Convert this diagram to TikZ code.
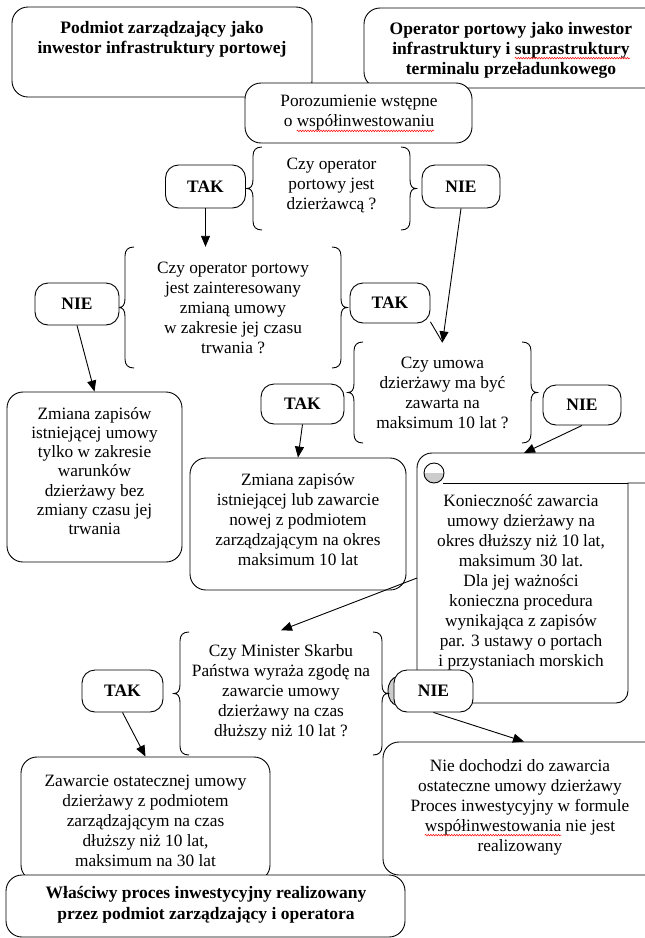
\documentclass[tikz,border=0pt]{standalone}
\usepackage{fontspec}
\setmainfont{Liberation Serif}
\usetikzlibrary{arrows.meta,calc,decorations.pathmorphing}
\newcommand\spellwave[1]{\setbox0=\hbox{#1}\makebox[\wd0][l]{\copy0\hspace{-\wd0}\tikz[overlay,baseline=0pt,x=1pt,y=1pt] \draw[red,line width=0.5pt,decorate,decoration={snake,amplitude=0.8pt,segment length=2.6pt}] (0,-4) -- (\the\wd0,-4);}}
\newcommand\bracepairpx[4]{%
  \pgfmathsetmacro\brmid{(#3+#4)/2}%
  \draw[brc] ({#1+9},#3) .. controls ({#1+3},#3) and (#1,{#3+3}) .. (#1,{#3+9}) -- (#1,{\brmid-9}) .. controls (#1,{\brmid-3}) and ({#1-2},\brmid) .. ({#1-6},\brmid) .. controls ({#1-2},\brmid) and (#1,{\brmid+3}) .. (#1,{\brmid+9}) -- (#1,{#4-9}) .. controls (#1,{#4-3}) and ({#1+3},#4) .. ({#1+9},#4);
  \draw[brc] ({#2-9},#3) .. controls ({#2-3},#3) and (#2,{#3+3}) .. (#2,{#3+9}) -- (#2,{\brmid-9}) .. controls (#2,{\brmid-3}) and ({#2+2},\brmid) .. ({#2+6},\brmid) .. controls ({#2+2},\brmid) and (#2,{\brmid+3}) .. (#2,{\brmid+9}) -- (#2,{#4-9}) .. controls (#2,{#4-3}) and ({#2-3},#4) .. ({#2-9},#4);
}
\begin{document}
\begin{tikzpicture}[x=1pt,y=-1pt,
  box/.style={draw=black,line width=0.9pt,fill=white,rounded corners=16pt,inner sep=0pt},
  pill/.style={draw=black,line width=0.9pt,fill=white,rounded corners=13pt,inner sep=0pt,font=\bfseries\fontsize{17.5}{20}\selectfont},
  txt/.style={align=center,font=\fontsize{17.3}{20}\selectfont,inner sep=0pt},
  btxt/.style={align=center,font=\bfseries\fontsize{17.5}{20}\selectfont,inner sep=0pt},
  wtxt/.style={align=center,font=\bfseries\fontsize{17.5}{20.5}\selectfont,inner sep=0pt},
  dec/.style={align=center,font=\fontsize{17.3}{20}\selectfont,inner sep=0pt},
  brc/.style={draw=black,line width=0.9pt},
  arr/.style={draw=black,line width=0.9pt,-{Triangle[length=11pt,width=9pt]}},
  ln/.style={draw=black,line width=0.9pt}]
\fill[white] (0,0) rectangle (645,938);
\useasboundingbox (0,0) rectangle (645,938);

% top boxes
\node[box,minimum width=300,minimum height=90] (A) at (162,52) {};
\node[btxt] (At) at (162,39) {Podmiot zarządzający jako\\inwestor infrastruktury portowej};
\node[box,minimum width=297,minimum height=80] (B) at (512.5,48) {};
\node[btxt] (Bt) at (511,50) {Operator portowy jako inwestor\\infrastruktury i \spellwave{suprastruktury}\\terminalu przeładunkowego};
\node[box,minimum width=227,minimum height=60] (C) at (358.5,113) {};
\node[txt] (Ct) at (359,113) {Porozumienie wstępne\\o \spellwave{współinwestowaniu}};

% decision 1
\bracepairpx{253}{410}{147}{230}
\node[dec,minimum width=157,minimum height=83] (D1) at (331.5,185) {Czy operator\\portowy jest\\dzierżawcą ?};
\node[pill,minimum width=80,minimum height=43] (TAK1) at (205.5,186.5) {TAK};
\node[pill,minimum width=78,minimum height=43] (NIE1) at (461,186.5) {NIE};

% decision 2
\bracepairpx{125}{341}{247}{368}
\node[dec,minimum width=216,minimum height=121] (D2) at (233,307.5) {Czy operator portowy\\jest zainteresowany\\zmianą umowy\\w zakresie jej czasu\\trwania ?};
\node[pill,minimum width=84,minimum height=42] (NIE2) at (77,304) {NIE};
\node[pill,minimum width=80,minimum height=40] (TAK2) at (390,303) {TAK};

% decision 3
\bracepairpx{354}{531}{342}{443}
\node[dec,minimum width=177,minimum height=101] (D3) at (442.5,393) {Czy umowa\\dzierżawy ma być\\zawarta na\\maksimum 10 lat ?};
\node[pill,minimum width=83,minimum height=40] (TAK3) at (302.5,404) {TAK};
\node[pill,minimum width=78,minimum height=40] (NIE3) at (582,405) {NIE};

% result boxes
\node[box,minimum width=175,minimum height=170] (Z1) at (94.5,477) {};
\node[txt,font=\fontsize{17.3}{19.3}\selectfont] (Z1t) at (94.5,471) {Zmiana zapisów\\istniejącej umowy\\tylko w zakresie\\warunków\\dzierżawy bez\\zmiany czasu jej\\trwania};
\node[box,minimum width=216,minimum height=132] (Z2) at (298,524) {};
\node[txt] (Z2t) at (298,520) {Zmiana zapisów\\istniejącej lub zawarcie\\nowej z podmiotem\\zarządzającym na okres\\maksimum 10 lat};

% scroll
\draw[ln,fill=white] (417,690) [rounded corners=15pt] -- (417,453) -- (665,453) [sharp corners] -- (665,483) -- (628,483) [rounded corners=12pt] -- (628,703) -- (417,703) [sharp corners] -- cycle;
\draw[ln] (443,483) -- (628,483);
\begin{scope}
  \clip (420,473) rectangle (448,487);
  \fill[gray!40] (434,473) circle[radius=10];
\end{scope}
\draw[ln] (434,473) circle[radius=10];
\coordinate (scrolltop) at (524,453);
\coordinate (scrollleft) at (417,578);
\node[txt] (St) at (521,582) {Konieczność zawarcia\\umowy dzierżawy na\\okres dłuższy niż 10 lat,\\maksimum 30 lat.\\Dla jej ważności\\konieczna procedura\\wynikająca z zapisów\\par. 3 ustawy o portach\\i przystaniach morskich};
\draw[ln,fill=gray!40] (397,691) ellipse[x radius=9, y radius=14];

% decision 4
\bracepairpx{180}{382}{632}{755}
\node[dec,minimum width=202,minimum height=123] (D4) at (281,692) {Czy Minister Skarbu\\Państwa wyraża zgodę na\\zawarcie umowy\\dzierżawy na czas\\dłuższy niż 10 lat ?};
\node[pill,minimum width=81,minimum height=42] (TAK4) at (122.5,691) {TAK};
\node[pill,minimum width=79,minimum height=42] (NIE4) at (433.5,691) {NIE};

% bottom boxes
\node[box,minimum width=249,minimum height=124] (Z3) at (145.5,819) {};
\node[txt] (Z3t) at (145.5,821) {Zawarcie ostatecznej umowy\\dzierżawy z podmiotem\\zarządzającym na czas\\dłuższy niż 10 lat,\\maksimum na 30 lat};
\node[box,minimum width=282,minimum height=133] (Z4) at (524,808.5) {};
\node[txt] (Z4t) at (520,807) {Nie dochodzi do zawarcia\\ostateczne umowy dzierżawy\\Proces inwestycyjny w formule\\\spellwave{współinwestowania} nie jest\\realizowany};
\node[box,minimum width=399,minimum height=62] (W) at (205.5,906) {};
\node[wtxt] (Wt) at (206,905) {Właściwy proces inwestycyjny realizowany\\przez podmiot zarządzający i operatora};

% connectors
\draw[arr] (TAK1.south) -- (TAK1.south |- D2.north);
\draw[arr] (NIE1.south) -- (D3.north);
\draw[ln] (TAK2.-25) -- (D3.north);
\draw[arr] (NIE2.south) -- (Z1.north);
\draw[arr] (TAK3.south) -- (Z2.north);
\draw[arr] (NIE3.south) -- (scrolltop);
\draw[arr] (scrollleft) -- (D4.north);
\draw[arr] (TAK4.south) -- (Z3.north);
\draw[arr] (NIE4.south) -- (Z4.north);
\end{tikzpicture}
\end{document}
